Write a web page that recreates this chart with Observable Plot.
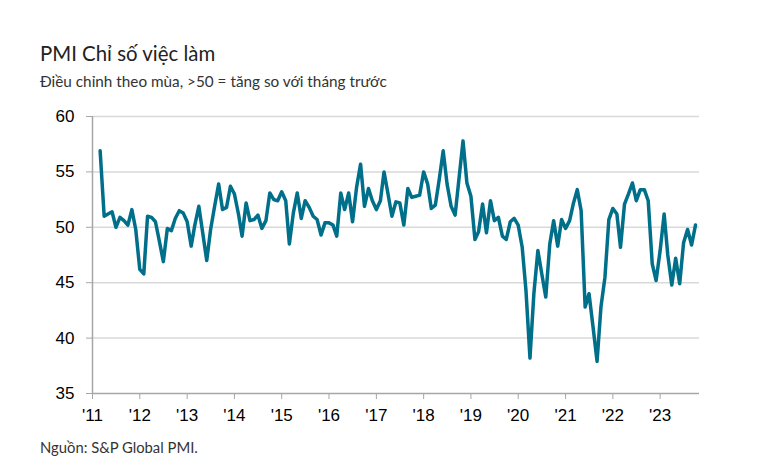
<!DOCTYPE html>
<html>
<head>
<meta charset="utf-8">
<script src="https://cdn.jsdelivr.net/npm/d3@7"></script>
<script src="https://cdn.jsdelivr.net/npm/@observablehq/plot@0.6"></script>
<style>
  html, body { margin: 0; padding: 0; background: #fff; }
  #wrap { position: relative; width: 765px; height: 470px; overflow: hidden; }
  .txt { position: absolute; left: 40px; white-space: nowrap; font-family: Lato, "Open Sans", sans-serif; color: #222; }
  #title { top: 41px; font-size: 20.4px; }
  #subtitle { top: 72px; font-size: 15.3px; color: #333; }
  #source { top: 438px; font-size: 14.8px; color: #333; }
</style>
</head>
<body>
<div id="wrap">
  <div id="chart"></div>
  <div id="title" class="txt">PMI Chỉ số việc làm</div>
  <div id="subtitle" class="txt">Điều chỉnh theo mùa, &gt;50 = tăng so với tháng trước</div>
  <div id="source" class="txt">Nguồn: S&amp;P Global PMI.</div>
</div>
<script>
// Monthly series, March 2011 – October 2023
const firstMonth = "2011-03-01";
const employmentIndex = [
  56.9, 51.0, 51.2, 51.4, 50.0, 50.9, 50.6, 50.2, 51.6, 49.8,           // 2011 Mar–Dec
  46.2, 45.8, 51.0, 50.9, 50.5, 48.7, 46.9, 49.9, 49.7, 50.8, 51.5, 51.3, // 2012
  50.5, 48.3, 50.2, 51.9, 49.5, 47.0, 49.8, 51.9, 53.9, 51.6, 51.8, 53.7, // 2013
  53.0, 51.2, 49.2, 52.2, 50.6, 50.7, 51.1, 49.9, 50.6, 53.1, 52.5, 52.4, // 2014
  53.2, 52.4, 48.5, 51.3, 53.1, 50.8, 52.4, 51.8, 51.0, 50.7, 49.3, 50.4, // 2015
  50.4, 50.2, 49.2, 53.1, 51.6, 53.1, 50.5, 53.6, 55.7, 51.9, 53.5, 52.4, // 2016
  51.6, 52.4, 55.0, 53.0, 51.0, 52.3, 52.2, 50.2, 53.5, 52.7, 52.8, 52.9, // 2017
  55.0, 53.9, 51.7, 52.0, 54.3, 56.9, 53.9, 51.9, 51.1, 54.4, 57.8, 54.0, // 2018
  52.8, 48.9, 49.6, 52.1, 49.5, 52.4, 50.6, 50.9, 49.2, 48.9, 50.5, 50.8, // 2019
  50.2, 48.2, 44.3, 38.2, 44.0, 47.9, 45.8, 43.7, 48.5, 50.6, 48.3, 50.7, // 2020
  49.9, 50.6, 52.1, 53.4, 51.5, 42.8, 44.0, 41.0, 37.9, 42.8, 45.5, 50.7, // 2021
  51.7, 51.2, 48.2, 52.1, 53.0, 54.0, 52.4, 53.4, 53.4, 52.4, 46.7, 45.2, // 2022
  47.9, 51.2, 47.5, 44.8, 47.2, 44.9, 48.6, 49.8, 48.4, 50.2              // 2023 Jan–Oct
];
const tickYears = [2011, 2012, 2013, 2014, 2015, 2016, 2017, 2018, 2019, 2020, 2021, 2022, 2023];
const tickLabels = ["'11", "'12", "'13", "'14", "'15", "'16", "'17", "'18", "'19", "'20", "'21", "'22", "'23"];
const yTicks = [35, 40, 45, 50, 55, 60];

const start = new Date(firstMonth);
const data = employmentIndex.map((v, i) => ({ date: d3.utcMonth.offset(start, i), value: v }));
const tickDates = tickYears.map(y => new Date(Date.UTC(y, 0, 1)));
const labelOf = new Map(tickDates.map((d, i) => [+d, tickLabels[i]]));

const chart = Plot.plot({
  width: 765,
  height: 470,
  marginLeft: 92,
  marginRight: 66,
  marginTop: 116,
  marginBottom: 77,
  style: { fontFamily: "'Liberation Sans', Arial, sans-serif", background: "transparent", color: "#000" },
  x: { type: "utc", domain: [new Date(Date.UTC(2011, 0, 1)), new Date(Date.UTC(2023, 10, 1))] },
  y: { domain: [35, 60] },
  marks: [
    Plot.ruleY(yTicks.filter(t => t > 35), { stroke: "#d9d9d9", strokeWidth: 1.5 }),
    Plot.axisY({ ticks: yTicks, tickSize: 6, tickPadding: 12, fontSize: 17, stroke: "#a6a6a6", label: null }),
    Plot.axisX({ ticks: tickDates, tickSize: 6, tickPadding: 9, fontSize: 17, stroke: "#a6a6a6",
                 tickFormat: d => labelOf.get(+d), label: null }),
    Plot.ruleX([new Date(Date.UTC(2011, 0, 1))], { y1: 35, y2: 60, stroke: "#a6a6a6", strokeWidth: 1.5 }),
    Plot.ruleY([35], { stroke: "#a6a6a6", strokeWidth: 1.5 }),
    Plot.line(data, { x: "date", y: "value", stroke: "#006f8a", strokeWidth: 3.5, strokeLinejoin: "round", strokeLinecap: "round" })
  ]
});
document.getElementById("chart").appendChild(chart);
</script>
</body>
</html>
